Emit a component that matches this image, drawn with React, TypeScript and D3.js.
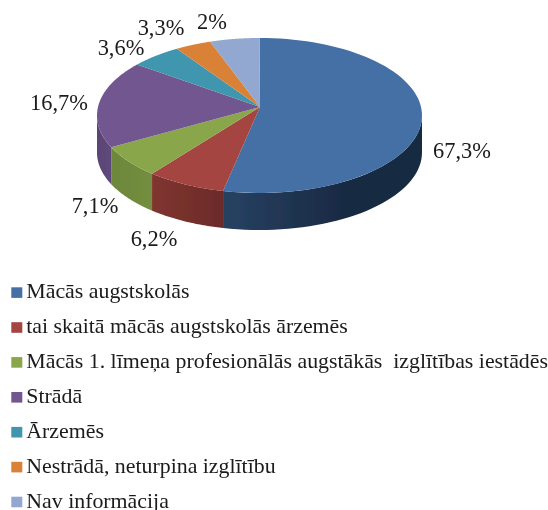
import React, { useEffect, useRef } from "react";
import * as d3 from "d3";

const categories = [
  "Mācās augstskolās",
  "tai skaitā mācās augstskolās ārzemēs",
  "Mācās 1. līmeņa profesionālās augstākās  izglītības iestādēs",
  "Strādā",
  "Ārzemēs",
  "Nestrādā, neturpina izglītību",
  "Nav informācija",
];
// the printed labels do not add up to the drawn slices, so both are kept
const valueLabels = ["67,3%", "6,2%", "7,1%", "16,7%", "3,6%", "3,3%", "2%"];
const drawnShares = [53.6, 7.9, 6.8, 18.1, 5.1, 3.6, 4.9];

const topColors = ["#4470a6", "#a54442", "#89a64c", "#72578f", "#3f96ae", "#da8139", "#92a8d0"];
const wallLeft = ["#274263", "#80352f", "#6d873a", "#5a4474", "#2f7488", "#a9642b", "#7285a6"];
const wallRight = ["#192a43", "#6b2b29", "#748e40", "#5f4a7c", "#2f7488", "#a9642b", "#7285a6"];

const width = 548;
const height = 510;
const cx = 259.5;
const cy = 115.5;
const rx = 162.5;
const ry = 77.5;
const depth = 37;
const apex: [number, number] = [260, 107];

// where each value label sits, by hand as in the original
const labelPos: [number, number][] = [
  [462, 158],
  [154, 246],
  [95, 213],
  [59, 110],
  [121, 55],
  [161, 35],
  [212, 28.5],
];

const rimPoint = (a: number, drop = 0): [number, number] => [
  cx + rx * Math.sin(a),
  cy - ry * Math.cos(a) + drop,
];

export default function App() {
  const ref = useRef<SVGSVGElement>(null);

  useEffect(() => {
    const svg = d3.select(ref.current);
    svg.selectAll("*").remove();

    const pie = d3.pie<number>().sort(null)(drawnShares);
    const defs = svg.append("defs");
    const font = "'Liberation Serif', serif";

    // soft edge, the source is a scaled-up picture
    defs.append("filter").attr("id", "soft").append("feGaussianBlur").attr("stdDeviation", 0.45);
    const root = svg.append("g").attr("filter", "url(#soft)");

    // walls first, only the front half of the rim can be seen
    pie.forEach((d, i) => {
      const a0 = Math.max(d.startAngle, Math.PI / 2);
      const a1 = Math.min(d.endAngle, (Math.PI * 3) / 2);
      if (a1 <= a0) return;
      const steps = d3.range(0, 41).map((k) => a0 + ((a1 - a0) * k) / 40);
      const pts = [
        ...steps.map((a) => rimPoint(a)),
        ...steps.slice().reverse().map((a) => rimPoint(a, depth)),
      ];
      const xs = pts.map((p) => p[0]);
      const grad = defs
        .append("linearGradient")
        .attr("id", "wall" + i)
        .attr("gradientUnits", "userSpaceOnUse")
        .attr("x1", d3.min(xs)!)
        .attr("x2", d3.max(xs)!)
        .attr("y1", 0)
        .attr("y2", 0);
      grad.append("stop").attr("offset", 0).attr("stop-color", wallLeft[i]);
      grad.append("stop").attr("offset", i === 0 ? 0.6 : 1).attr("stop-color", wallRight[i]);
      root
        .append("path")
        .attr("d", d3.line()(pts) + "Z")
        .attr("fill", `url(#wall${i})`);
    });

    // top of the pie
    pie.forEach((d, i) => {
      const steps = d3.range(0, 81).map((k) => d.startAngle + ((d.endAngle - d.startAngle) * k) / 80);
      root
        .append("path")
        .attr("d", d3.line()([apex, ...steps.map((a) => rimPoint(a))]) + "Z")
        .attr("fill", topColors[i]);
    });

    root
      .selectAll("text.value")
      .data(valueLabels)
      .enter()
      .append("text")
      .attr("class", "value")
      .attr("x", (_, i) => labelPos[i][0])
      .attr("y", (_, i) => labelPos[i][1])
      .attr("text-anchor", "middle")
      .attr("font-family", font)
      .attr("font-size", 22.4)
      .attr("fill", "#1a1a1a")
      .text((d) => d);

    // legend, one row per category
    const rowY = d3.scalePoint<string>().domain(categories).range([298.3, 507.7]);
    const rows = root
      .selectAll("g.row")
      .data(categories)
      .enter()
      .append("g")
      .attr("class", "row")
      .attr("transform", (d) => `translate(0,${rowY(d)})`);
    rows
      .append("rect")
      .attr("x", 11.3)
      .attr("y", -11)
      .attr("width", 11)
      .attr("height", 10.6)
      .attr("fill", (_, i) => topColors[i]);
    rows
      .append("text")
      .attr("x", 26.3)
      .attr("font-family", font)
      .attr("font-size", 21.85)
      .style("white-space", "pre")
      .attr("fill", "#1a1a1a")
      .text((d) => d);
  }, []);

  return (
    <svg
      ref={ref}
      width={width}
      height={height}
      style={{ position: "absolute", left: 0, top: 0, background: "#fff" }}
    />
  );
}
